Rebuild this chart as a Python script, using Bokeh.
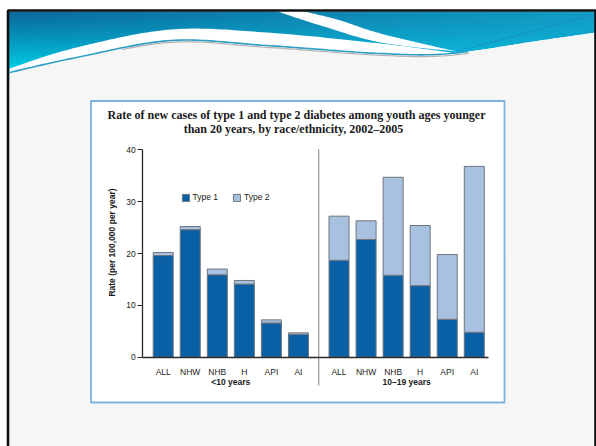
import numpy as np
from bokeh.plotting import figure
from bokeh.models import ColumnDataSource, Range1d, LinearAxis, FixedTicker
from bokeh.core.properties import value
from bokeh.embed import file_html
from bokeh.resources import INLINE

# ---------------- data ----------------
categories = ["ALL", "NHW", "NHB", "H", "API", "AI"]
age_groups = ["<10 years", "10\u201319 years"]
series_names = ["Type 1", "Type 2"]
type1_under10 = [19.6, 24.6, 15.9, 14.1, 6.6, 4.4]
type2_under10 = [0.6, 0.6, 1.1, 0.7, 0.6, 0.3]
type1_10to19 = [18.7, 22.7, 15.8, 13.8, 7.3, 4.8]
type2_10to19 = [8.5, 3.6, 18.9, 11.6, 12.5, 32.0]
y_ticks = [0, 10, 20, 30, 40]
title_lines = [
    "Rate of new cases of type 1 and type 2 diabetes among youth ages younger",
    "than 20 years, by race/ethnicity, 2002\u20132005",
]
y_label = "Rate (per 100,000 per year)"

# ---------------- styling / layout ----------------
W, H = 596, 446
TYPE1 = "#0a60a4"
TYPE2 = "#a9c1e1"
BAR_EDGE = "#6f757d"
AXIS = "#2a2a2a"
INK = "#1a1a1a"
SANS_NAME = "Liberation Sans"
SANS = value(SANS_NAME)
SERIF = value("Liberation Serif")

# page position of the plotting area (pixels) and its scale
PX_X0, PX_PER_SLOT = 162.7, 27.05      # centre of first bar, slot spacing
PX_Y0, PX_PER_UNIT = 356.7, 5.185      # baseline, pixels per rate unit
GROUP_GAP = 1.5
BAR_WIDTH = 0.74

n = len(categories)
x_pos = [float(i) for i in range(n)] + [n - 1 + GROUP_GAP + i for i in range(n)]
x_lo, x_hi = x_pos[0] - 0.76, x_pos[-1] + 0.53
divider_x = (x_pos[n - 1] + x_pos[n]) / 2


def py_to_rate(py):
    return (PX_Y0 - py) / PX_PER_UNIT


p = figure(
    width=W, height=H,
    x_range=Range1d(0, W), y_range=Range1d(H, 0),
    x_axis_location=None, y_axis_location=None,
    toolbar_location=None, output_backend="svg",
    min_border=0, outline_line_color=None,
    background_fill_color="white", border_fill_color="white",
)
p.grid.visible = False
p.extra_x_ranges = {"cx": Range1d((0 - PX_X0) / PX_PER_SLOT, (W - PX_X0) / PX_PER_SLOT)}
p.extra_y_ranges = {"cy": Range1d(py_to_rate(H), py_to_rate(0))}


# ---------------- slide background ----------------
def smooth(pts, steps=24):
    """Catmull-Rom path through the given pixel points."""
    P = np.asarray(pts, float)
    P = np.vstack([P[0], P, P[-1]])
    out = []
    t = np.linspace(0, 1, steps, endpoint=False)[:, None]
    for i in range(1, len(P) - 2):
        p0, p1, p2, p3 = P[i - 1], P[i], P[i + 1], P[i + 2]
        out.append(0.5 * (2 * p1 + (-p0 + p2) * t
                          + (2 * p0 - 5 * p1 + 4 * p2 - p3) * t ** 2
                          + (-p0 + 3 * p1 - 3 * p2 + p3) * t ** 3))
    out.append(P[-2][None, :])
    return np.vstack(out)


SL, ST, SR, SB = 7.5, 10.0, 595.0, 470.0
p.quad(left=[SL], right=[SR], top=[ST], bottom=[SB], fill_color="#f6f6f6", line_color=None)


def hex2rgb(h):
    return np.array([int(h[i:i + 2], 16) for i in (1, 3, 5)], float)


# header gradient, built from small tiles
top_l, top_r = hex2rgb("#096a9c"), hex2rgb("#129cc4")
bot_l, bot_r = hex2rgb("#00dcf0"), hex2rgb("#0cc6e8")
gx = np.arange(SL + 1, SR, 12.0)
gy = np.arange(ST + 1, 80.0, 2.0)
L, T, C = [], [], []
for xv in gx:
    tx = (xv - SL) / (SR - SL)
    tc = top_l + (top_r - top_l) * tx
    bc = bot_l + (bot_r - bot_l) * tx
    for yv in gy:
        ty = min(1.0, (yv - ST) / 64.0) ** 1.2
        c = tc + (bc - tc) * ty
        L.append(xv)
        T.append(yv)
        C.append("#%02x%02x%02x" % tuple(int(round(v)) for v in c))
L = np.array(L)
T = np.array(T)
p.quad(left=L, right=np.minimum(L + 12.6, SR), top=T, bottom=T + 2.6, fill_color=C, line_color=None)

wave_low = smooth([(9, 72), (76, 57), (171, 40), (266, 45), (380, 53), (450, 53), (540, 40), (596, 32)])
wave_top = smooth([(9, 68), (76, 47), (171, 29), (266, 32), (380, 43), (450, 52)])
tail = wave_low[wave_low[:, 0] > 450]
white_poly = np.vstack([wave_top, tail, [(596, 95), (9, 95)]])
p.patch(white_poly[:, 0], white_poly[:, 1], fill_color="#ffffff", line_color=None)
bg_poly = np.vstack([wave_low, [(596, 95), (9, 95)]])
p.patch(bg_poly[:, 0], bg_poly[:, 1], fill_color="#f6f6f6", line_color=None)

stripe_lo = smooth([(274, 10), (320, 25), (380, 42), (456, 51)])
stripe_hi = smooth([(300, 10), (340, 20), (380, 33), (456, 51)])
stripe = np.vstack([stripe_lo, stripe_hi[::-1]])
p.patch(stripe[:, 0], stripe[:, 1], fill_color="#fbfdfe", line_color=None)

seg = wave_low[wave_low[:, 0] <= 470]
p.line(seg[:, 0], seg[:, 1], line_color="#2f9ec6", line_width=1.6)
shadow = seg[seg[:, 0] >= 120]
p.line(shadow[:, 0], shadow[:, 1] + 1.8, line_color="#b4b4b4", line_width=1.2)
streak = smooth([(456, 51), (520, 34), (596, 13)])
p.line(streak[:, 0], streak[:, 1], line_color="#1f6fc0", line_width=1.2, line_alpha=0.35)

p.quad(left=[SL], right=[SR], top=[ST], bottom=[SB], fill_color=None, line_color="#111111", line_width=2.6)

# chart panel
p.quad(left=[90.5], right=[504], top=[100.5], bottom=[402], fill_color="white",
       line_color="#7eb0de", line_width=1.8)

# ---------------- chart ----------------
src = ColumnDataSource(dict(
    x=x_pos,
    type1=type1_under10 + type1_10to19,
    type2=type2_under10 + type2_10to19,
))

p.segment(x0=[divider_x], x1=[divider_x], y0=[y_ticks[-1] + 0.1], y1=[py_to_rate(385)],
          line_color="#9a9a9a", line_width=1.2, x_range_name="cx", y_range_name="cy")

p.vbar_stack(["type1", "type2"], x="x", width=BAR_WIDTH, source=src,
             fill_color=[TYPE1, TYPE2], line_color=BAR_EDGE, line_width=1,
             legend_label=series_names, x_range_name="cx", y_range_name="cy")

yax = LinearAxis(x_range_name="cx", y_range_name="cy", fixed_location=x_lo,
                 bounds=(y_ticks[0], y_ticks[-1]), ticker=FixedTicker(ticks=y_ticks))
yax.axis_line_color = AXIS
yax.axis_line_width = 1.3
yax.major_tick_line_color = AXIS
yax.major_tick_line_width = 1.2
yax.major_tick_out = 5
yax.major_tick_in = 0
yax.minor_tick_line_color = None
yax.major_label_text_font = SANS_NAME
yax.major_label_text_font_size = "8.5px"
yax.major_label_text_color = INK
yax.major_label_standoff = 2
p.add_layout(yax, "left")

xax = LinearAxis(x_range_name="cx", y_range_name="cy", fixed_location=0,
                 bounds=(x_lo, x_hi), ticker=FixedTicker(ticks=x_pos),
                 major_label_overrides={xv: c for xv, c in zip(x_pos, categories * 2)})
xax.axis_line_color = AXIS
xax.axis_line_width = 1.3
xax.major_tick_line_color = None
xax.minor_tick_line_color = None
xax.major_label_text_font = SANS_NAME
xax.major_label_text_font_size = "8.5px"
xax.major_label_text_color = INK
xax.major_label_standoff = 4
p.add_layout(xax, "below")

group_x = [float(np.mean(x_pos[:n])), float(np.mean(x_pos[n:]))]
p.text(x=group_x, y=[py_to_rate(381)] * 2, text=age_groups, text_font=SANS,
       text_font_size="8.5px", text_font_style="bold", text_color=INK,
       text_align="center", text_baseline="middle", x_range_name="cx", y_range_name="cy")

p.text(x=[111], y=[242], text=[y_label], angle=np.pi / 2, text_font=SANS,
       text_font_size="8.5px", text_font_style="bold", text_color=INK,
       text_align="center", text_baseline="middle")

p.text(x=[296, 293], y=[114, 128], text=title_lines, text_font=SERIF,
       text_font_size="12px", text_font_style="bold", text_color=INK,
       text_align="center", text_baseline="middle")

lg = p.legend[0]
lg.orientation = "horizontal"
lg.location = (180.5, H - 202)
lg.background_fill_alpha = 0
lg.border_line_color = None
lg.padding = 0
lg.margin = 0
lg.spacing = 14
lg.glyph_width = 9
lg.glyph_height = 9
lg.label_height = 9
lg.label_standoff = 3
lg.label_text_font = SANS_NAME
lg.label_text_font_size = "8.5px"
lg.label_text_color = INK

open("out.html", "w").write(file_html(p, INLINE))
